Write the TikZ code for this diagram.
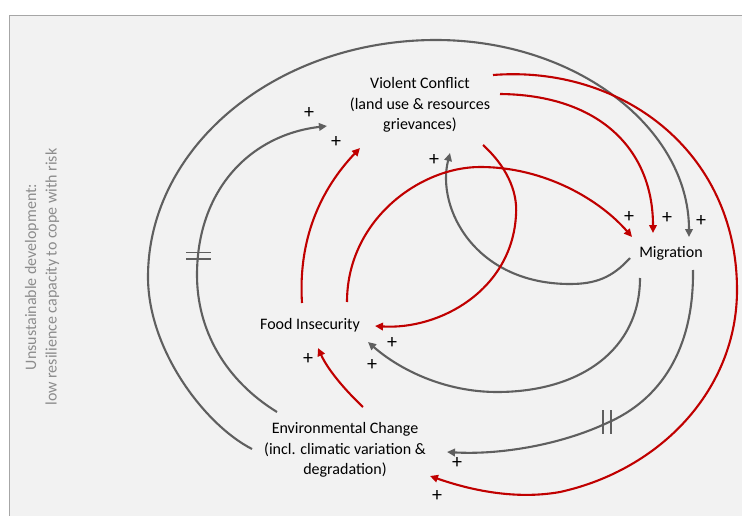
\documentclass[tikz,border=0pt]{standalone}
\usepackage{fontspec}
\setmainfont{Carlito}
\usetikzlibrary{arrows.meta}
\definecolor{loopred}{HTML}{C00000}
\definecolor{loopgray}{HTML}{5F5F5F}
\definecolor{panel}{HTML}{F2F2F2}
\definecolor{frame}{HTML}{A6A6A6}
\definecolor{sidegray}{HTML}{8C8C8C}
\tikzstyle{factor} = [align=center, inner sep=0pt,
    font=\fontsize{16}{20.5}\selectfont]
\tikzstyle{sign} = [inner sep=0pt, font=\fontsize{20}{20}\selectfont]
\tikzstyle{redlink} = [loopred, line width=2.1pt,
    -{Triangle[length=8pt,width=7.5pt]}]
\tikzstyle{graylink} = [loopgray, line width=2.1pt,
    -{Triangle[length=8pt,width=7.5pt]}]
\tikzstyle{delaymark} = [loopgray, line width=1.8pt]

\begin{document}
\begin{tikzpicture}[x=1pt,y=-1pt]

	\useasboundingbox (0,0) rectangle (742,516);
	\fill[white] (0,0) rectangle (742,516);
	\draw[frame, fill=panel, line width=0.8pt] (9,15) rectangle (760,530);

	% factors
	\node[factor] (vc) at (420,105) {Violent Conflict\\(land use \& resources\\grievances)};
	\node[factor] (mig) at (671,253) {Migration};
	\node[factor] (fi) at (310,325) {Food Insecurity};
	\node[factor] (ec) at (345,450) {Environmental Change\\(incl. climatic variation \&\\degradation)};
	\node[factor, text=sidegray, rotate=90] (side) at (42,277)
		{Unsustainable development:\\low resilience capacity to cope with risk};

	% end points of the links
	\coordinate (ec-a) at (252,449); %outer gray
	\coordinate (ec-b) at (277,412); %inner gray
	\coordinate (ec-c) at (363,407); %red to FI
	\coordinate (ec-in1) at (447,452); %gray from Mig
	\coordinate (ec-in2) at (430,476); %red from VC
	\coordinate (vc-a) at (493,75); %red to EC
	\coordinate (vc-b) at (500,94); %red to Mig
	\coordinate (vc-c) at (483,145); %red to FI
	\coordinate (vc-in1) at (327,126); %gray from EC
	\coordinate (vc-in2) at (360,148); %red from FI
	\coordinate (vc-in3) at (450,153); %gray from Mig
	\coordinate (mig-a) at (630,258); %gray to VC
	\coordinate (mig-b) at (640,278); %gray to FI
	\coordinate (mig-c) at (693,270); %gray to EC
	\coordinate (mig-in1) at (632,237); %red from FI
	\coordinate (mig-in2) at (653,233); %red from VC
	\coordinate (mig-in3) at (689,237); %gray from EC
	\coordinate (fi-a) at (302,303); %red to VC
	\coordinate (fi-b) at (347,302); %red to Mig
	\coordinate (fi-in1) at (375,326); %red from VC
	\coordinate (fi-in2) at (368,342); %gray from Mig
	\coordinate (fi-in3) at (318,348); %red from EC

	% gray links
	\draw[graylink] (ec-a) .. controls (205,425) and (148,350) .. (148,277)
		.. controls (148,146) and (277,40) .. (436,40)
		.. controls (576,40) and (689,128) .. (mig-in3); %EC->Mig
	\draw[graylink] (ec-b) .. controls (225,380) and (197,330) .. (197,275)
		.. controls (197,190) and (250,135) .. (vc-in1); %EC->VC
	\draw[graylink] (mig-a) .. controls (612,278) and (595,284) .. (570,284)
		.. controls (475,284) and (436,208) .. (vc-in3); %Mig->VC
	\draw[graylink] (mig-b) .. controls (640,350) and (580,392) .. (497,392)
		.. controls (445,392) and (400,370) .. (fi-in2); %Mig->FI
	\draw[graylink] (mig-c) .. controls (694,350) and (660,400) .. (607,423)
		.. controls (560,445) and (500,455) .. (ec-in1); %Mig->EC

	% red links
	\draw[redlink] (vc-a) .. controls (620,65) and (737,150) .. (737,290)
		.. controls (737,390) and (660,470) .. (560,492)
		.. controls (515,500) and (470,490) .. (ec-in2); %VC->EC
	\draw[redlink] (vc-b) .. controls (600,95) and (653,150) .. (mig-in2); %VC->Mig
	\draw[redlink] (vc-c) .. controls (505,165) and (518,190) .. (516,215)
		.. controls (512,290) and (440,330) .. (fi-in1); %VC->FI
	\draw[redlink] (fi-b) .. controls (347,220) and (420,167) .. (480,167)
		.. controls (545,167) and (600,200) .. (mig-in1); %FI->Mig
	\draw[redlink] (fi-a) .. controls (298,240) and (320,190) .. (vc-in2); %FI->VC
	\draw[redlink] (ec-c) .. controls (345,390) and (328,370) .. (fi-in3); %EC->FI

	% delays
	\draw[delaymark] (186,252.5) -- (211,252.5) (186,259) -- (211,259);
	\draw[delaymark] (603,410) -- (603,434) (611,410) -- (611,434);

	% polarities
	\node[sign] (s1) at (309,113) {+};
	\node[sign] (s2) at (336,142) {+};
	\node[sign] (s3) at (434,160) {+};
	\node[sign] (s4) at (629,217) {+};
	\node[sign] (s5) at (667,218) {+};
	\node[sign] (s6) at (701,221) {+};
	\node[sign] (s7) at (392,343) {+};
	\node[sign] (s8) at (372,365) {+};
	\node[sign] (s9) at (308,359) {+};
	\node[sign] (s10) at (457,463) {+};
	\node[sign] (s11) at (437,496) {+};

\end{tikzpicture}
\end{document}
